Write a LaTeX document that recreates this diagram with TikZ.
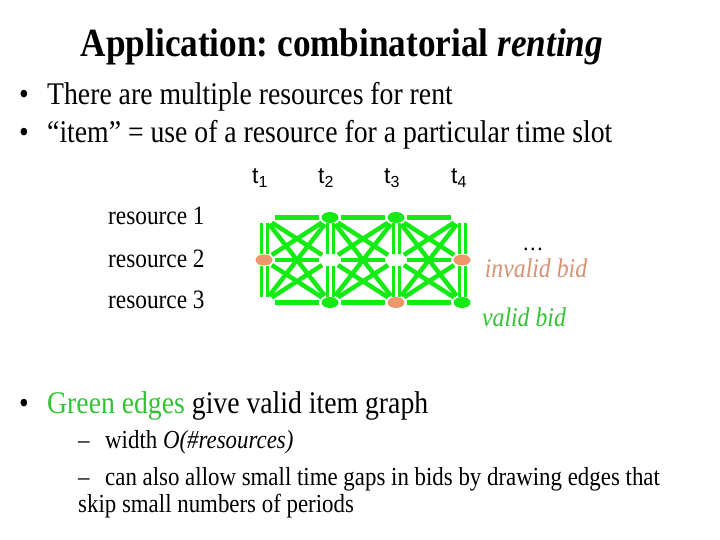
\documentclass[tikz,border=0pt]{standalone}
\usepackage{fontspec}
\setmainfont{Liberation Serif}[FakeStretch=0.88]
\newfontfamily\arialfont{Liberation Sans}
\usetikzlibrary{shapes.geometric,backgrounds}
\frenchspacing

\definecolor{edgegreen}{RGB}{20,235,20}
\definecolor{txtgreen}{RGB}{50,195,50}
\definecolor{bidorange}{RGB}{240,150,110}
\definecolor{invalidtxt}{RGB}{215,145,115}

\newcommand{\tslot}[1]{t\raisebox{-4pt}{\fontsize{16}{16}\selectfont #1}}

\tikzset{
  slot/.style={ellipse, minimum width=17pt, minimum height=11pt, inner sep=0pt},
  validslot/.style={slot, fill=edgegreen},
  invalidslot/.style={slot, fill=bidorange},
  itemedge/.style={edgegreen, line width=4.5pt, shorten <=2pt, shorten >=2pt},
  stackedge/.style={edgegreen, line width=3pt, double=white, double distance=3pt},
  bodytext/.style={anchor=base west, inner sep=0pt, font=\fontsize{31.5}{36}\selectfont},
  subtext/.style={anchor=base west, inner sep=0pt, font=\fontsize{26}{30}\selectfont},
  rowtext/.style={anchor=base west, inner sep=0pt, font=\fontsize{26.5}{30}\selectfont},
  bidtext/.style={anchor=base, inner sep=0pt, font=\fontsize{27}{30}\selectfont\itshape},
  timetext/.style={anchor=base west, inner sep=0pt, font=\arialfont\fontsize{23}{26}\selectfont},
}

\begin{document}
\begin{tikzpicture}[x=1pt, y=-1pt]
    \useasboundingbox (0,0) rectangle (720,540);

    % title and top bullets
    \node[anchor=base, inner sep=0pt, font=\fontsize{40}{44}\selectfont\bfseries] (title) at (342,57) {Application: combinatorial \textit{renting}};
    \node[bodytext] (dot1) at (19,105) {\textbullet};
    \node[bodytext] (line1) at (47,105) {There are multiple resources for rent};
    \node[bodytext] (dot2) at (19,143) {\textbullet};
    \node[bodytext] (line2) at (47,143) {``item'' = use of a resource for a particular time slot};

    % time slots and resources
    \node[timetext] (t1) at (252,184) {\tslot{1}};
    \node[timetext] (t2) at (318,184) {\tslot{2}};
    \node[timetext] (t3) at (384,184) {\tslot{3}};
    \node[timetext] (t4) at (451,184) {\tslot{4}};
    \node[rowtext] (r1) at (108,225) {resource 1};
    \node[rowtext] (r2) at (108,267) {resource 2};
    \node[rowtext] (r3) at (108,308) {resource 3};

    % item graph
    \foreach \col/\row/\kind in {1/1/slot, 1/2/invalidslot, 1/3/slot,
                                 2/1/validslot, 2/2/slot, 2/3/validslot,
                                 3/1/validslot, 3/2/slot, 3/3/invalidslot,
                                 4/1/slot, 4/2/invalidslot, 4/3/validslot}
        \node[\kind] (s\col\row) at ({198+66*\col},{175+42.5*\row}) {};

    \begin{scope}[on background layer]
        \foreach \a/\b in {1/2,2/3,3/4}
            \foreach \i in {1,2,3}
                \foreach \j in {1,2,3}
                    \draw[itemedge] (s\a\i) -- (s\b\j);
        \foreach \c in {1,...,4} {
            \draw[stackedge] (s\c1) -- (s\c2);
            \draw[stackedge] (s\c2) -- (s\c3);
        }
    \end{scope}

    \node[bidtext, font=\fontsize{24}{28}\selectfont] (dots) at (533,250) {\ldots};
    \node[bidtext, text=invalidtxt] (invalid) at (536,277) {invalid bid};
    \node[bidtext, text=txtgreen] (valid) at (524,326) {valid bid};

    % bottom bullets
    \node[bodytext] (dot3) at (19,413) {\textbullet};
    \node[bodytext] (line3) at (47,413) {\textcolor{txtgreen}{Green edges} give valid item graph};
    \node[subtext] (dash1) at (78,448) {--};
    \node[subtext] (sub1) at (105,448) {width \textit{O(\#resources)}};
    \node[subtext] (dash2) at (78,485) {--};
    \node[subtext] (sub2) at (105,485) {can also allow small time gaps in bids by drawing edges that};
    \node[subtext] (sub3) at (78,512) {skip small numbers of periods};
\end{tikzpicture}
\end{document}
